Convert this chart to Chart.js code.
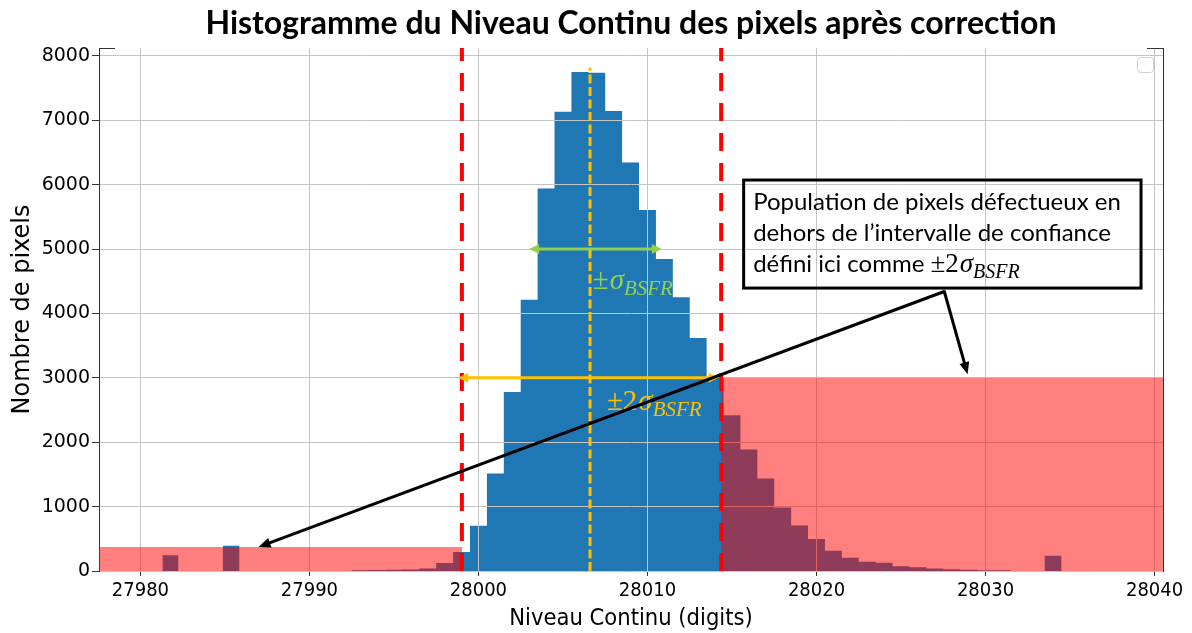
<!DOCTYPE html>
<html>
<head>
<meta charset="utf-8">
<script src="https://cdn.jsdelivr.net/npm/chart.js@4.4.1/dist/chart.umd.min.js"></script>
<style>
  html, body { margin: 0; padding: 0; background: #ffffff; }
  #wrap { width: 1192px; height: 633px; }
</style>
</head>
<body>
<div id="wrap"><canvas id="histo" width="1192" height="633"></canvas></div>
<script>
// Dark-level histogram after correction: one-digit bins centred on integers
const binCenters = [27993, 27994, 27995, 27996, 27997, 27998, 27999, 28000, 28001, 28002,
                    28003, 28004, 28005, 28006, 28007, 28008, 28009, 28010, 28011, 28012,
                    28013, 28014, 28015, 28016, 28017, 28018, 28019, 28020, 28021, 28022,
                    28023, 28024, 28025, 28026, 28027, 28028, 28029, 28030, 28031];
const binCounts  = [12, 15, 18, 22, 38, 125, 295, 703, 1514, 2780,
                    4212, 5943, 7132, 7750, 7740, 7147, 6346, 5607, 4848, 4253,
                    3618, 3005, 2419, 1886, 1437, 987, 708, 496, 315, 207,
                    145, 129, 75, 58, 38, 26, 20, 12, 10];

// isolated outlier bins (edges in digits)
const outlierFrom   = [27981.30, 27984.88, 28033.5];
const outlierTo     = [27982.24, 27985.85, 28034.5];
const outlierCounts = [244, 392, 235];

const xTickValues = [27980, 27990, 28000, 28010, 28020, 28030, 28040];
const yTickValues = [0, 1000, 2000, 3000, 4000, 5000, 6000, 7000, 8000];

// statistics of the distribution
const meanLevel  = 28006.6;
const meanTop    = 7820;
const lowerLimit = 27999.02;   // mean - 2 sigma
const upperLimit = 28014.36;   // mean + 2 sigma
const sigmaSpan     = [28003.0, 28010.85];
const sigmaSpanY    = 5000;
const twoSigmaSpan  = [27998.8, 28014.2];
const twoSigmaSpanY = 3000;

// shaded populations outside the confidence interval
const lowBandHeight  = 373;
const highBandHeight = 3000;

// annotation placement, in data units
const sigmaLabelAt    = { x: 28006.76, y: 4379 };
const twoSigmaLabelAt = { x: 28007.60, y: 2498 };
const calloutBox      = { x0: 28015.69, x1: 28039.2, yTop: 6073, yBottom: 4395 };
const calloutOrigin   = { x: 28027.56, y: 4342 };
const calloutTips     = [{ x: 27986.99, y: 373 }, { x: 28028.94, y: 3058 }];
const calloutLines    = ['Population de pixels défectueux en',
                         'dehors de l\u2019intervalle de confiance',
                         'défini ici comme '];

const BLUE = '#1f77b4';
const GREEN = '#92d050';
const GOLD = '#ffc000';
const NARROW = "'Liberation Sans Narrow', 'DejaVu Sans Condensed', sans-serif";
const MATH = "'Liberation Serif', 'DejaVu Serif', serif";
const TEXT = "Lato, 'Open Sans', sans-serif";

function histogramPoints() {
  const bins = binCenters.map((c, i) => ({ from: c - 0.5, to: c + 0.5, n: binCounts[i] }));
  outlierFrom.forEach((f, i) => bins.push({ from: f, to: outlierTo[i], n: outlierCounts[i] }));
  bins.sort((a, b) => a.from - b.from);
  const pts = [];
  let prevTo = null;
  for (const b of bins) {
    if (prevTo === null || Math.abs(b.from - prevTo) > 1e-9) {
      if (prevTo !== null) pts.push({ x: prevTo, y: 0 });
      pts.push({ x: b.from, y: 0 });
    }
    pts.push({ x: b.from, y: b.n }, { x: b.to, y: b.n });
    prevTo = b.to;
  }
  pts.push({ x: prevTo, y: 0 });
  return pts;
}

function arrowHead(ctx, x1, y1, x2, y2, len, half) {
  const ang = Math.atan2(y2 - y1, x2 - x1);
  ctx.beginPath();
  ctx.moveTo(x2, y2);
  ctx.lineTo(x2 - len * Math.cos(ang) + half * Math.sin(ang), y2 - len * Math.sin(ang) - half * Math.cos(ang));
  ctx.lineTo(x2 - len * Math.cos(ang) - half * Math.sin(ang), y2 - len * Math.sin(ang) + half * Math.cos(ang));
  ctx.closePath();
  ctx.fill();
}

function arrow(ctx, x1, y1, x2, y2, color, width, len, half, both) {
  const ang = Math.atan2(y2 - y1, x2 - x1);
  ctx.strokeStyle = color;
  ctx.fillStyle = color;
  ctx.lineWidth = width;
  ctx.setLineDash([]);
  ctx.beginPath();
  const sx = both ? x1 + (len - 1) * Math.cos(ang) : x1;
  const sy = both ? y1 + (len - 1) * Math.sin(ang) : y1;
  ctx.moveTo(sx, sy);
  ctx.lineTo(x2 - (len - 1) * Math.cos(ang), y2 - (len - 1) * Math.sin(ang));
  ctx.stroke();
  arrowHead(ctx, x1, y1, x2, y2, len, half);
  if (both) arrowHead(ctx, x2, y2, x1, y1, len, half);
}

// "±σ_BSFR" style label: upright prefix, italic sigma, italic subscript
function sigmaText(ctx, x, baseline, prefix, size, subSize, color) {
  ctx.fillStyle = color;
  ctx.textBaseline = 'alphabetic';
  ctx.textAlign = 'left';
  const parts = [
    { t: prefix, f: `${size}px ${MATH}`, dy: 0, gap: 1 },
    { t: '\u03c3', f: `italic ${size}px ${MATH}`, dy: 0, gap: 0 },
    { t: 'BSFR', f: `italic ${subSize}px ${MATH}`, dy: subSize * 0.3, gap: 0 }
  ];
  let cx = x;
  for (const p of parts) {
    ctx.font = p.f;
    ctx.fillText(p.t, cx, baseline + p.dy);
    cx += ctx.measureText(p.t).width + p.gap;
  }
}

const overlays = {
  id: 'overlays',
  afterDraw(chart) {
    const { ctx, chartArea: a, scales: { x, y } } = chart;
    const X = v => x.getPixelForValue(v);
    const Y = v => y.getPixelForValue(v);
    ctx.save();

    // populations outside +-2 sigma
    ctx.fillStyle = 'rgba(255, 0, 0, 0.5)';
    ctx.fillRect(X(x.min), Y(lowBandHeight), X(lowerLimit) - X(x.min), Y(0) - Y(lowBandHeight));
    ctx.fillRect(X(upperLimit), Y(highBandHeight), X(x.max) - X(upperLimit), Y(0) - Y(highBandHeight));

    // remaining frame: right spine and the visible ends of the top spine
    ctx.strokeStyle = '#333333';
    ctx.lineWidth = 1;
    ctx.beginPath();
    ctx.moveTo(Math.round(a.right) + 0.5, a.top);
    ctx.lineTo(Math.round(a.right) + 0.5, a.bottom);
    ctx.moveTo(a.left, Math.round(a.top) + 0.5);
    ctx.lineTo(a.left + 16, Math.round(a.top) + 0.5);
    ctx.moveTo(a.right - 16, Math.round(a.top) + 0.5);
    ctx.lineTo(a.right + 1, Math.round(a.top) + 0.5);
    ctx.stroke();

    // confidence limits
    ctx.strokeStyle = '#ff0000';
    ctx.lineWidth = 4;
    ctx.setLineDash([18, 12]);
    for (const lim of [lowerLimit, upperLimit]) {
      ctx.beginPath();
      ctx.moveTo(X(lim), a.bottom);
      ctx.lineTo(X(lim), a.top);
      ctx.stroke();
    }

    // mean level
    ctx.strokeStyle = GOLD;
    ctx.lineWidth = 3;
    ctx.setLineDash([9, 3.5]);
    ctx.beginPath();
    ctx.moveTo(X(meanLevel), Y(0));
    ctx.lineTo(X(meanLevel), Y(meanTop));
    ctx.stroke();
    ctx.setLineDash([]);

    // +-sigma and +-2 sigma spans
    arrow(ctx, X(sigmaSpan[0]), Y(sigmaSpanY), X(sigmaSpan[1]), Y(sigmaSpanY), GREEN, 3, 10, 5, true);
    sigmaText(ctx, X(sigmaLabelAt.x), Y(sigmaLabelAt.y), '\u00b1', 29, 21, GREEN);
    arrow(ctx, X(twoSigmaSpan[0]), Y(twoSigmaSpanY), X(twoSigmaSpan[1]), Y(twoSigmaSpanY), GOLD, 3, 10, 5, true);
    sigmaText(ctx, X(twoSigmaLabelAt.x), Y(twoSigmaLabelAt.y), '\u00b12', 29, 21, GOLD);

    // callout arrows
    const ox = X(calloutOrigin.x), oy = Y(calloutOrigin.y);
    for (const tip of calloutTips) {
      arrow(ctx, ox, oy, X(tip.x), Y(tip.y), '#000000', 3, 12, 5, false);
    }
    ctx.beginPath();
    ctx.arc(ox, oy, 1.5, 0, Math.PI * 2);
    ctx.fill();

    // callout box
    const bx0 = X(calloutBox.x0), bx1 = X(calloutBox.x1);
    const by0 = Y(calloutBox.yTop), by1 = Y(calloutBox.yBottom);
    ctx.strokeStyle = '#000000';
    ctx.lineWidth = 3;
    ctx.strokeRect(bx0, by0, bx1 - bx0, by1 - by0);
    ctx.textAlign = 'left';
    ctx.textBaseline = 'alphabetic';
    calloutLines.forEach((line, i) => {
      ctx.font = `24px ${TEXT}`;
      ctx.fillStyle = '#000000';
      ctx.fillText(line, bx0 + 9.5, by0 + 30 + i * 30.8);
    });
    ctx.font = `24px ${TEXT}`;
    const w3 = ctx.measureText(calloutLines[2]).width;
    sigmaText(ctx, bx0 + 9.5 + w3, by0 + 91.7, '\u00b12', 27, 20, '#000000');

    // empty legend frame
    ctx.strokeStyle = 'rgba(204, 204, 204, 0.9)';
    ctx.lineWidth = 1;
    const lx = a.right - 25.5, ly = a.top + 9.5;
    ctx.beginPath();
    ctx.roundRect(lx, ly, 16, 15, 3);
    ctx.stroke();

    ctx.restore();
  }
};

new Chart(document.getElementById('histo'), {
  type: 'line',
  data: {
    datasets: [{
      data: histogramPoints(),
      fill: 'origin',
      backgroundColor: BLUE,
      borderColor: 'rgba(0,0,0,0)',
      borderWidth: 0,
      pointRadius: 0,
      tension: 0
    }]
  },
  options: {
    responsive: false,
    animation: false,
    devicePixelRatio: 1,
    layout: { padding: { left: 0, right: 29, top: 0, bottom: 0 } },
    plugins: {
      legend: { display: false },
      tooltip: { enabled: false },
      title: {
        display: true,
        fullSize: false,
        text: 'Histogramme du Niveau Continu des pixels après correction',
        color: '#000000',
        font: { family: TEXT, weight: 'bold', size: 32 },
        padding: { top: 4, bottom: 5.6 }
      }
    },
    scales: {
      x: {
        type: 'linear',
        min: 27977.55,
        max: 28040.5,
        afterBuildTicks: s => { s.ticks = xTickValues.map(v => ({ value: v })); },
        afterFit: s => { s.height = 62; },
        grid: { color: '#c4c4c4', lineWidth: 1, z: 1, drawTicks: true, tickLength: 5, tickColor: '#333333' },
        border: { display: true, color: '#333333', width: 1, z: 1 },
        ticks: {
          autoSkip: false, maxRotation: 0, padding: 3, color: '#000000',
          font: { family: NARROW, size: 20 },
          callback: v => String(v)
        },
        title: {
          display: true, text: 'Niveau Continu (digits)', color: '#000000',
          font: { family: NARROW, size: 23.5 },
          padding: { top: 0, bottom: 0 }
        }
      },
      y: {
        type: 'linear',
        min: 0,
        max: 8124,
        afterBuildTicks: s => { s.ticks = yTickValues.map(v => ({ value: v })); },
        afterFit: s => { s.width = 99; },
        grid: { color: '#c4c4c4', lineWidth: 1, z: 1, drawTicks: true, tickLength: 7, tickColor: '#333333' },
        border: { display: true, color: '#333333', width: 1, z: 1 },
        ticks: {
          autoSkip: false, padding: 2, color: '#000000',
          font: { family: "'DejaVu Sans', sans-serif", size: 19 },
          callback: v => String(v)
        },
        title: {
          display: true, text: 'Nombre de pixels', color: '#000000',
          font: { family: "'DejaVu Sans', sans-serif", size: 24 },
          padding: { top: 8 }
        }
      }
    }
  },
  plugins: [overlays]
});
</script>
</body>
</html>
